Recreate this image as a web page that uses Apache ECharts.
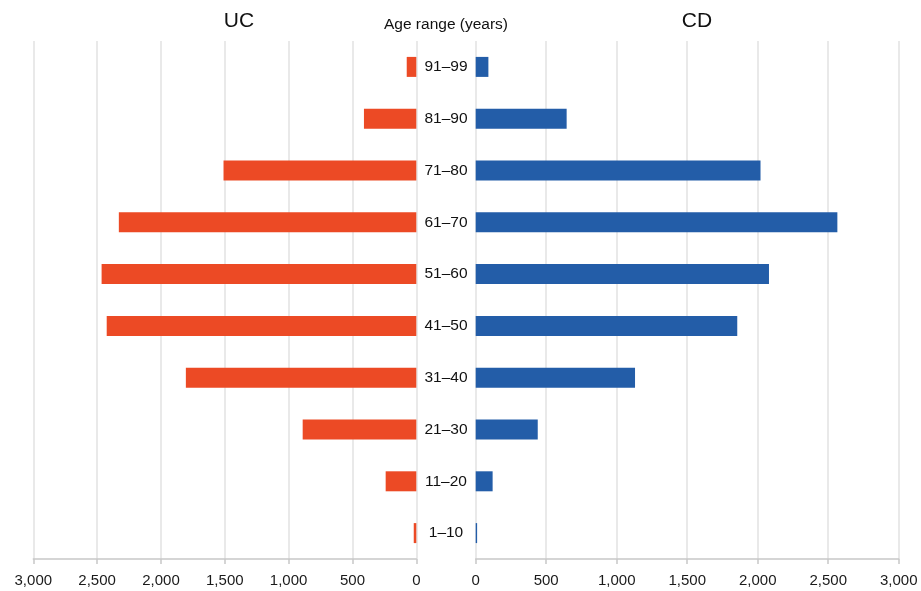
<!DOCTYPE html>
<html>
<head>
<meta charset="utf-8">
<script src="https://cdn.jsdelivr.net/npm/echarts@6/dist/echarts.min.js"></script>
<style>html,body{margin:0;padding:0;background:#fff;}#c{width:921px;height:591px;}</style>
</head>
<body>
<div id="c"></div>
<script>
var categories = ['1–10','11–20','21–30','31–40','41–50','51–60','61–70','71–80','81–90','91–99'];
var ucValues = [20, 240, 890, 1805, 2425, 2465, 2330, 1510, 410, 75];
var cdValues = [10, 120, 440, 1130, 1855, 2080, 2565, 2020, 645, 90];
var axisMin = 0, axisMax = 3000, axisStep = 500;

var chart = echarts.init(document.getElementById('c'));
var fontFam = 'Liberation Sans, Arial, sans-serif';
function fmt(v){ return echarts.format.addCommas(v); }
var xCommon = {
  type: 'value', min: axisMin, max: axisMax, interval: axisStep,
  axisLine: {show: true, lineStyle: {color: '#c8c8c8', width: 1.5}},
  axisTick: {show: true, length: 5, lineStyle: {color: '#c8c8c8', width: 1.5}},
  axisLabel: {color: '#1a1a1a', fontSize: 15, fontFamily: fontFam, margin: 14, formatter: fmt},
  splitLine: {show: true, lineStyle: {color: '#e2e2e2', width: 1.5}}
};
chart.setOption({
  animation: false,
  backgroundColor: '#fff',
  graphic: [
    {type: 'text', x: 239, y: 21, style: {text: 'UC', font: '21px ' + fontFam, fill: '#111', textAlign: 'center', textVerticalAlign: 'middle'}},
    {type: 'text', x: 697, y: 21, style: {text: 'CD', font: '21px ' + fontFam, fill: '#111', textAlign: 'center', textVerticalAlign: 'middle'}},
    {type: 'text', x: 446, y: 25, style: {text: 'Age range (years)', font: '15.5px ' + fontFam, fill: '#111', textAlign: 'center', textVerticalAlign: 'middle'}}
  ],
  grid: [
    {left: 33.3, right: 504.7, top: 41, bottom: 32, containLabel: false},
    {left: 475.7, right: 22.3, top: 41, bottom: 32, containLabel: false}
  ],
  xAxis: [
    Object.assign({gridIndex: 0, inverse: true}, xCommon),
    Object.assign({gridIndex: 1}, xCommon)
  ],
  yAxis: [
    {type: 'category', gridIndex: 0, data: categories, position: 'right',
     axisLine: {show: false}, axisTick: {show: false},
     axisLabel: {show: true, align: 'center', margin: 29.7, color: '#111', fontSize: 15.5, fontFamily: fontFam}},
    {type: 'category', gridIndex: 1, data: categories,
     axisLine: {show: false}, axisTick: {show: false}, axisLabel: {show: false}}
  ],
  series: [
    {type: 'bar', name: 'UC', xAxisIndex: 0, yAxisIndex: 0, data: ucValues, barWidth: 20,
     itemStyle: {color: '#EC4A25'}},
    {type: 'bar', name: 'CD', xAxisIndex: 1, yAxisIndex: 1, data: cdValues, barWidth: 20,
     itemStyle: {color: '#235DA8'}}
  ]
});
</script>
</body>
</html>
